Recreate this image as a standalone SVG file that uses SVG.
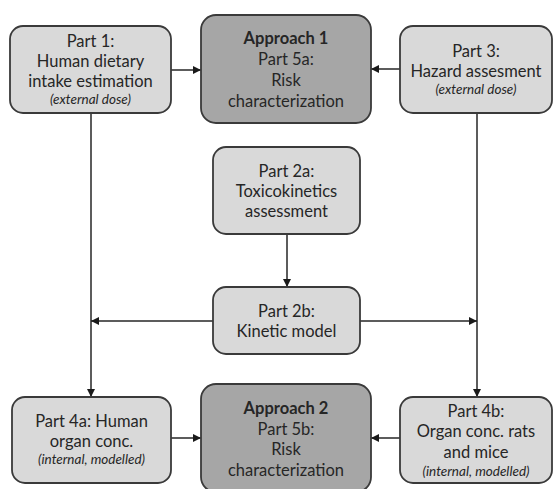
<svg xmlns="http://www.w3.org/2000/svg" width="553" height="489" viewBox="0 0 553 489">
<defs>
<style>
.box{fill:#d9d9d9;stroke:#3a3a3a;stroke-width:1.8}
.dark{fill:#a6a6a6;stroke:#3a3a3a;stroke-width:1.8}
.t{font-family:Lato,"Open Sans",sans-serif;font-size:16.5px;fill:#262626;text-anchor:middle}
.b{font-weight:bold}
.i{font-style:italic;font-size:13.5px}
.c{fill:none;stroke:#262626;stroke-width:1.5}
</style>
<marker id="ah" viewBox="0 0 10 10" refX="10" refY="5" markerWidth="9" markerHeight="8" markerUnits="userSpaceOnUse" orient="auto">
<path d="M0,0 L10,5 L0,10 Z" fill="#1a1a1a"/>
</marker>
</defs>
<rect width="553" height="489" fill="#ffffff"/>
<g id="connectors">
<line class="c" x1="171" y1="70" x2="201" y2="70" marker-end="url(#ah)"/>
<line class="c" x1="400" y1="69" x2="371" y2="69" marker-end="url(#ah)"/>
<line class="c" x1="91" y1="113" x2="91" y2="397" marker-end="url(#ah)"/>
<line class="c" x1="477" y1="113" x2="477" y2="397" marker-end="url(#ah)"/>
<line class="c" x1="287" y1="234" x2="287" y2="287" marker-end="url(#ah)"/>
<line class="c" x1="213" y1="321" x2="91" y2="321" marker-end="url(#ah)"/>
<line class="c" x1="360" y1="321" x2="477" y2="321" marker-end="url(#ah)"/>
<line class="c" x1="171" y1="438" x2="201" y2="438" marker-end="url(#ah)"/>
<line class="c" x1="400" y1="438" x2="371" y2="438" marker-end="url(#ah)"/>
</g>
<g id="part1">
<rect class="box" x="10" y="26" width="161" height="87" rx="13"/>
<text class="t" x="90.5" y="47">Part 1:</text>
<text class="t" x="90.5" y="67">Human dietary</text>
<text class="t" x="90.5" y="87">intake estimation</text>
<text class="t i" x="90.5" y="104">(external dose)</text>
</g>
<g id="approach1">
<rect class="dark" x="201" y="15" width="170" height="108" rx="15"/>
<text class="t b" x="286" y="44">Approach 1</text>
<text class="t" x="286" y="65">Part 5a:</text>
<text class="t" x="286" y="86">Risk</text>
<text class="t" x="286" y="107">characterization</text>
</g>
<g id="part3">
<rect class="box" x="400" y="26" width="152" height="87" rx="13"/>
<text class="t" x="476" y="57">Part 3:</text>
<text class="t" x="476" y="77">Hazard assesment</text>
<text class="t i" x="476" y="94">(external dose)</text>
</g>
<g id="part2a">
<rect class="box" x="213" y="147" width="147" height="87" rx="13"/>
<text class="t" x="286.5" y="177">Part 2a:</text>
<text class="t" x="286.5" y="197">Toxicokinetics</text>
<text class="t" x="286.5" y="217">assessment</text>
</g>
<g id="part2b">
<rect class="box" x="213" y="287" width="147" height="67" rx="13"/>
<text class="t" x="286.5" y="317">Part 2b:</text>
<text class="t" x="286.5" y="337">Kinetic model</text>
</g>
<g id="part4a">
<rect class="box" x="12" y="397" width="159" height="86" rx="13"/>
<text class="t" x="91.5" y="427">Part 4a: Human</text>
<text class="t" x="91.5" y="447">organ conc.</text>
<text class="t i" x="91.5" y="464">(internal, modelled)</text>
</g>
<g id="approach2">
<rect class="dark" x="201" y="384" width="170" height="108" rx="15"/>
<text class="t b" x="286" y="414">Approach 2</text>
<text class="t" x="286" y="435">Part 5b:</text>
<text class="t" x="286" y="455">Risk</text>
<text class="t" x="286" y="476">characterization</text>
</g>
<g id="part4b">
<rect class="box" x="400" y="397" width="152" height="86" rx="13"/>
<text class="t" x="476" y="417">Part 4b:</text>
<text class="t" x="476" y="437">Organ conc. rats</text>
<text class="t" x="476" y="458">and mice</text>
<text class="t i" x="476" y="476">(internal, modelled)</text>
</g>
</svg>
